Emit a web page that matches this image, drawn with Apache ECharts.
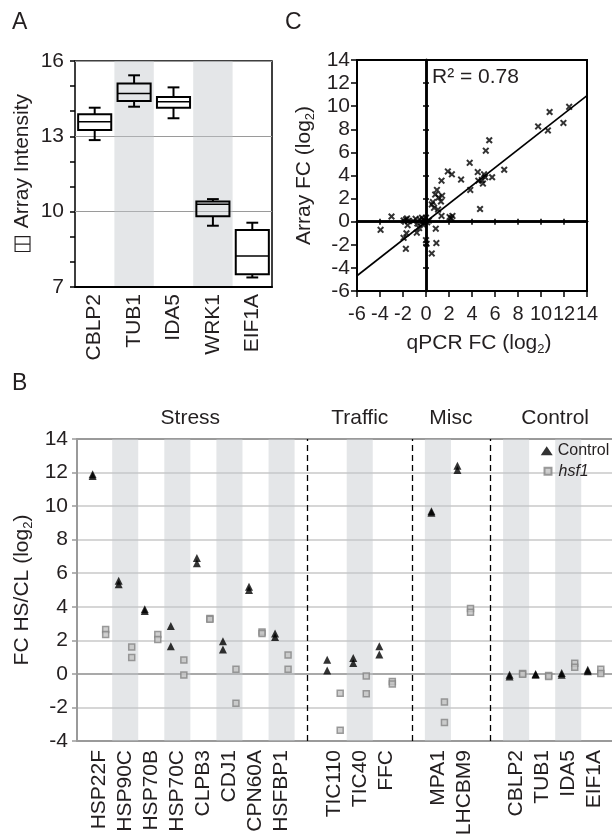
<!DOCTYPE html>
<html>
<head>
<meta charset="utf-8">
<script src="https://cdn.jsdelivr.net/npm/echarts/dist/echarts.min.js"></script>
<style>
  html, body { margin: 0; padding: 0; background: #fff; }
  #chart { width: 612px; height: 834px; }
</style>
</head>
<body>
<div id="chart"></div>
<script>
// ---------- Panel A: array intensity of reference genes ----------
const genesA = ['CBLP2', 'TUB1', 'IDA5', 'WRK1', 'EIF1A'];
const lowA  = [12.85, 14.18, 13.72, 9.44, 7.38];
const q1A   = [13.25, 14.41, 14.14, 9.82, 7.51];
const medA  = [13.58, 14.71, 14.38, 10.30, 8.23];
const q3A   = [13.88, 15.10, 14.57, 10.40, 9.27];
const highA = [14.14, 15.43, 14.95, 10.50, 9.56];

// ---------- Panel C: qPCR vs array fold change ----------
const qpcrFC = [
  -3.95, -3.00, -1.95, -1.75, -1.55, -1.65, -1.95, -1.75, -1.70, -1.60,
  -1.10, -0.90, -0.75, -0.60, -0.55, -0.40, -0.25, -0.10, -0.80, -0.35,
   0.10,  0.25,  0.00,  0.05,  0.85,  0.90,  0.50,  0.00, -0.20,  0.60,
   0.80,  0.95,  1.10,  1.40,  1.35,  0.50,  0.70,  1.35,  1.05,  1.30,
   2.05,  2.30,  2.20,  1.90,  2.25,  3.05,  3.80,  3.85,  4.50,  4.70,
   4.55,  4.85,  4.95,  5.05,  5.15,  5.20,  5.50,  5.75,  6.80,  9.75,
  10.60, 10.75, 11.95, 12.45
];
const arrayFC = [
  -0.70,  0.45,  0.10,  0.18,  0.05,  0.28, -1.40, -2.35, -1.00, -0.30,
   0.05,  0.25, -0.15, -0.55,  0.20, -0.05,  0.20,  0.05, -0.95,  0.35,
  -0.05,  0.10, -1.60, -1.90, -0.60, -1.85, -2.75,  0.35, -0.30,  1.70,
   2.35,  2.75,  2.10,  2.25,  3.55,  1.50,  1.20,  0.50,  1.05,  1.75,
   0.40,  0.50,  0.30,  4.35,  4.10,  3.65,  5.10,  2.75,  4.30,  1.10,
   3.55,  3.60,  3.30,  4.10,  3.85,  6.15,  7.05,  3.85,  4.50,  8.25,
   7.90,  9.50,  8.55,  9.95
];
const fitSlope = 0.78;
const fitIntercept = 0.0;
const rSquaredText = 'R\u00B2 = 0.78';

// ---------- Panel B: HS/CL fold change per gene ----------
const genesB = ['HSP22F', 'HSP90C', 'HSP70B', 'HSP70C', 'CLPB3', 'CDJ1', 'CPN60A', 'HSFBP1', '',
                'TIC110', 'TIC40', 'FFC', '', 'MPA1', 'LHCBM9', '', 'CBLP2', 'TUB1', 'IDA5', 'EIF1A'];
const controlRep1 = [11.90, 5.55, 3.85, 2.85, 6.90, 1.95, 5.20, 2.40, null, 0.85, 0.95, 1.65, null, 9.70, 12.40, null, -0.05, 0.00, 0.05, 0.25];
const controlRep2 = [11.80, 5.35, 3.75, 1.65, 6.60, 1.45, 5.00, 2.20, null, 0.20, 0.65, 1.15, null, 9.60, 12.15, null, -0.15, -0.05, -0.05, 0.15];
const hsf1Rep1    = [2.65, 1.60, 2.35, 0.83, 3.30, 0.27, 2.50, 1.12, null, -1.16, -0.13, -0.45, null, -1.67, 3.90, null, 0.02, -0.10, 0.63, 0.27];
const hsf1Rep2    = [2.35, 0.98, 2.05, -0.07, 3.25, -1.75, 2.40, 0.27, null, -3.36, -1.18, -0.60, null, -2.90, 3.68, null, -0.02, -0.15, 0.40, 0.03];
const groupNames  = ['Stress', 'Traffic', 'Misc', 'Control'];
const groupCenters = [3.5, 10, 13.5, 17.5];     // slot positions of the group headings
const groupDividers = [8, 12, 15];              // empty slots holding the dashed separators
const shadedSlots = [1, 3, 5, 7, 10, 13, 16, 18];

// ---------- shared styling ----------
const FONT = 'Liberation Sans, Arial, Helvetica, sans-serif';
const INK = '#231f20';
const BAND = 'rgba(196,199,204,0.45)';
const subRich = { s: { fontSize: 13, padding: [12, 0, 0, 0], fontFamily: FONT, color: INK } };

// ---------- derived series data ----------
const boxData = genesA.map((g, i) => [i, lowA[i], q1A[i], medA[i], q3A[i], highA[i]]);
const scatterC = qpcrFC.map((x, i) => [x, arrayFC[i]]);
const xMinC = -6, xMaxC = 14;
const fitLine = [[xMinC, fitSlope * xMinC + fitIntercept], [xMaxC, fitSlope * xMaxC + fitIntercept]];

const OFFSET = 0.25;
const controlPts = [];
const hsf1Pts = [];
genesB.forEach((g, i) => {
  if (controlRep1[i] != null) controlPts.push([i - OFFSET, controlRep1[i]]);
  if (controlRep2[i] != null) controlPts.push([i - OFFSET, controlRep2[i]]);
  if (hsf1Rep1[i] != null) hsf1Pts.push([i + OFFSET, hsf1Rep1[i]]);
  if (hsf1Rep2[i] != null) hsf1Pts.push([i + OFFSET, hsf1Rep2[i]]);
});
const bandAreas = shadedSlots.map(i => [{ xAxis: i - 0.5 }, { xAxis: i + 0.5 }]);
const dividerLines = groupDividers.map(i => ({ xAxis: i }));

// box with short whisker caps
function renderBox(params, api) {
  const x = api.value(0);
  const lo = api.coord([x, api.value(1)]);
  const q1 = api.coord([x, api.value(2)]);
  const md = api.coord([x, api.value(3)]);
  const q3 = api.coord([x, api.value(4)]);
  const hi = api.coord([x, api.value(5)]);
  const slot = api.size([1, 0])[0];
  const half = slot * 0.42;
  const cap = slot * 0.15;
  const cx = md[0];
  const st = { stroke: '#000', lineWidth: 2 };
  return {
    type: 'group',
    children: [
      { type: 'line', shape: { x1: cx, y1: hi[1], x2: cx, y2: q3[1] }, style: st },
      { type: 'line', shape: { x1: cx, y1: q1[1], x2: cx, y2: lo[1] }, style: st },
      { type: 'line', shape: { x1: cx - cap, y1: hi[1], x2: cx + cap, y2: hi[1] }, style: st },
      { type: 'line', shape: { x1: cx - cap, y1: lo[1], x2: cx + cap, y2: lo[1] }, style: st },
      { type: 'rect', shape: { x: cx - half, y: q3[1], width: 2 * half, height: q1[1] - q3[1] },
        style: { stroke: '#000', lineWidth: 2, fill: 'rgba(0,0,0,0)' } },
      { type: 'line', shape: { x1: cx - half, y1: md[1], x2: cx + half, y2: md[1] },
        style: { stroke: '#000', lineWidth: 1.5 } }
    ]
  };
}

const noAxisParts = { axisLabel: { show: false }, axisTick: { show: false }, splitLine: { show: false } };

const option = {
  animation: false,
  textStyle: { fontFamily: FONT, color: INK },
  grid: [
    { left: 75, top: 61, width: 197, height: 226, show: true, borderColor: '#000', borderWidth: 1.5, outerBoundsMode: 'none' },
    { left: 357, top: 60, width: 230, height: 231, show: true, borderColor: '#000', borderWidth: 2, outerBoundsMode: 'none' },
    { left: 357, top: 60, width: 230, height: 231, outerBoundsMode: 'none' },
    { left: 357, top: 60, width: 230, height: 231, outerBoundsMode: 'none' },
    { left: 77, top: 439, width: 535, height: 302, outerBoundsMode: 'none' },
    { left: 86.3, top: 439, width: 521, height: 302, outerBoundsMode: 'none' }
  ],
  xAxis: [
    // A: genes
    { gridIndex: 0, type: 'category', data: genesA, boundaryGap: true,
      axisLine: { lineStyle: { color: '#000', width: 2 } },
      axisTick: { show: false },
      axisLabel: { rotate: 90, fontSize: 21, color: INK, margin: 7, interval: 0 },
      splitArea: { show: true, interval: 0, areaStyle: { color: ['rgba(0,0,0,0)', BAND] } } },
    // C: qPCR axis along the bottom
    { gridIndex: 1, type: 'value', min: xMinC, max: xMaxC, interval: 2,
      name: 'qPCR FC (log{s|2})', nameLocation: 'middle', nameGap: 40, nameMoveOverlap: false,
      nameTextStyle: { fontSize: 21, color: INK, rich: subRich, padding: [0, 0, 0, 14] },
      axisLine: { onZero: false, lineStyle: { color: '#000', width: 2 } },
      axisTick: { show: true, inside: false, length: 6, lineStyle: { color: '#000', width: 1.5 } },
      axisLabel: { fontSize: 20, color: INK, margin: 13, showMinLabel: true, showMaxLabel: true, hideOverlap: false },
      splitLine: { show: false } },
    // C: zero lines, ticks on both sides
    { gridIndex: 2, type: 'value', min: xMinC, max: xMaxC, interval: 2,
      axisLine: { onZero: true, lineStyle: { color: '#000', width: 2.5 } },
      axisTick: { show: true, inside: true, length: 3, lineStyle: { color: '#000', width: 1.5 } },
      axisLabel: { show: false }, splitLine: { show: false } },
    { gridIndex: 3, type: 'value', min: xMinC, max: xMaxC, interval: 2,
      axisLine: { onZero: true, lineStyle: { color: '#000', width: 2.5 } },
      axisTick: { show: true, inside: false, length: 3, lineStyle: { color: '#000', width: 1.5 } },
      axisLabel: { show: false }, splitLine: { show: false } },
    // B: slot scale for the marks
    Object.assign({ gridIndex: 4, type: 'value', min: -0.85, max: 19.68, position: 'bottom',
      axisLine: { onZero: false, lineStyle: { color: '#9a9a9a', width: 2 } } }, noAxisParts),
    Object.assign({ gridIndex: 4, type: 'value', min: -0.85, max: 19.68, position: 'top',
      axisLine: { onZero: false, lineStyle: { color: '#9a9a9a', width: 2 } } }, noAxisParts),
    // B: gene names
    { gridIndex: 5, type: 'category', data: genesB, boundaryGap: true, position: 'bottom',
      axisLine: { show: false }, axisTick: { show: false }, splitLine: { show: false },
      axisLabel: { rotate: 90, fontSize: 21, color: INK, margin: 9, interval: 0 } }
  ],
  yAxis: [
    { gridIndex: 0, type: 'value', min: 7, max: 16, interval: 3,
      name: '\u25EB Array Intensity', nameLocation: 'middle', nameGap: 42, nameMoveOverlap: false,
      nameTextStyle: { fontSize: 21, color: INK },
      axisLine: { lineStyle: { color: '#000', width: 2 } },
      axisTick: { show: true, length: 5, lineStyle: { color: '#000', width: 1.5 } },
      minorTick: { show: true, splitNumber: 3, length: 5, lineStyle: { color: '#000', width: 1.5 } },
      axisLabel: { fontSize: 21, color: INK, margin: 11 },
      splitLine: { show: true, lineStyle: { color: '#9a9a9a', width: 1 } } },
    { gridIndex: 1, type: 'value', min: -6, max: 14, interval: 2,
      name: 'Array FC (log{s|2})', nameLocation: 'middle', nameGap: 40, nameMoveOverlap: false,
      nameTextStyle: { fontSize: 21, color: INK, rich: subRich },
      axisLine: { onZero: false, lineStyle: { color: '#000', width: 2 } },
      axisTick: { show: true, inside: false, length: 6, lineStyle: { color: '#000', width: 1.5 } },
      axisLabel: { fontSize: 21, color: INK, margin: 7, showMinLabel: true, showMaxLabel: true },
      splitLine: { show: false } },
    { gridIndex: 2, type: 'value', min: -6, max: 14, interval: 2,
      axisLine: { onZero: true, lineStyle: { color: '#000', width: 2.5 } },
      axisTick: { show: true, inside: true, length: 3, lineStyle: { color: '#000', width: 1.5 } },
      axisLabel: { show: false }, splitLine: { show: false } },
    { gridIndex: 3, type: 'value', min: -6, max: 14, interval: 2,
      axisLine: { onZero: true, lineStyle: { color: '#000', width: 2.5 } },
      axisTick: { show: true, inside: false, length: 3, lineStyle: { color: '#000', width: 1.5 } },
      axisLabel: { show: false }, splitLine: { show: false } },
    { gridIndex: 4, type: 'value', min: -4, max: 14, interval: 2,
      name: 'FC HS/CL (log{s|2})', nameLocation: 'middle', nameGap: 42, nameMoveOverlap: false,
      nameTextStyle: { fontSize: 21, color: INK, rich: subRich },
      axisLine: { onZero: false, lineStyle: { color: '#9a9a9a', width: 2 } },
      axisTick: { show: true, length: 5, lineStyle: { color: '#9a9a9a', width: 1.5 } },
      axisLabel: { fontSize: 21, color: INK, margin: 9 },
      splitLine: { show: true, lineStyle: { width: 1.5,
        color: ['#c9c9c9', '#c9c9c9', '#8c8c8c', '#c9c9c9', '#c9c9c9', '#c9c9c9', '#c9c9c9', '#c9c9c9', '#c9c9c9', '#c9c9c9'] } } },
    { gridIndex: 5, type: 'value', min: -4, max: 14, show: false }
  ],
  legend: [
    { data: ['Control'], orient: 'vertical', left: 540.7, top: 442.8, padding: 0,
      itemWidth: 12, itemHeight: 9, symbolKeepAspect: false,
      textStyle: { fontSize: 16, color: INK, fontFamily: FONT } },
    { data: ['hsf1'], orient: 'vertical', left: 543.5, top: 463.2, padding: 0,
      itemWidth: 7, itemHeight: 7,
      textStyle: { fontSize: 16, color: INK, fontStyle: 'italic', fontFamily: FONT, padding: [0, 0, 0, 2] } }
  ],
  graphic: [
    { type: 'text', left: 12, top: 11, style: { text: 'A', fontSize: 23, fill: INK, fontFamily: FONT } },
    { type: 'text', left: 285, top: 11, style: { text: 'C', fontSize: 23, fill: INK, fontFamily: FONT } },
    { type: 'text', left: 12, top: 372, style: { text: 'B', fontSize: 23, fill: INK, fontFamily: FONT } },
    { type: 'text', left: 432, top: 67, style: { text: rSquaredText, fontSize: 21, fill: INK, fontFamily: FONT } }
  ],
  series: [
    { type: 'custom', xAxisIndex: 0, yAxisIndex: 0, renderItem: renderBox, data: boxData,
      encode: { x: 0, y: [1, 2, 3, 4, 5] }, z: 3 },

    { type: 'line', xAxisIndex: 1, yAxisIndex: 1, data: fitLine, showSymbol: false, silent: true,
      lineStyle: { color: '#000', width: 1.6 }, z: 3 },
    { type: 'scatter', xAxisIndex: 1, yAxisIndex: 1, data: scatterC, symbolSize: 7,
      symbol: 'path://M0,2L2,0L5,3L8,0L10,2L7,5L10,8L8,10L5,7L2,10L0,8L3,5Z',
      itemStyle: { color: '#000' }, z: 4 },

    { type: 'scatter', xAxisIndex: 4, yAxisIndex: 4, data: [], silent: true, z: 1,
      markArea: { silent: true, itemStyle: { color: BAND }, data: bandAreas },
      markLine: { silent: true, symbol: 'none', label: { show: false },
        lineStyle: { color: '#000', width: 1.3, type: [6, 4] }, data: dividerLines } },
    { name: 'hsf1', type: 'scatter', xAxisIndex: 4, yAxisIndex: 4, data: hsf1Pts,
      symbol: 'rect', symbolSize: 6,
      itemStyle: { color: '#c4c4c4', borderColor: '#858585', borderWidth: 1.5 }, z: 4 },
    { name: 'Control', type: 'scatter', xAxisIndex: 4, yAxisIndex: 4, data: controlPts,
      symbol: 'triangle', symbolSize: [8, 8],
      itemStyle: { color: '#000' }, z: 5 }
  ]
};

// group headings for panel B, positioned from the slot scale
const chart = echarts.init(document.getElementById('chart'));
chart.setOption(option);
const headings = groupNames.map((name, k) => {
  const px = chart.convertToPixel({ xAxisIndex: 4, yAxisIndex: 4 }, [groupCenters[k], 14]);
  return { type: 'text', x: px[0], y: 418,
    style: { text: name, fontSize: 21, fill: INK, fontFamily: FONT, align: 'center', verticalAlign: 'middle' } };
});
chart.setOption({ graphic: option.graphic.concat(headings) });
</script>
</body>
</html>
